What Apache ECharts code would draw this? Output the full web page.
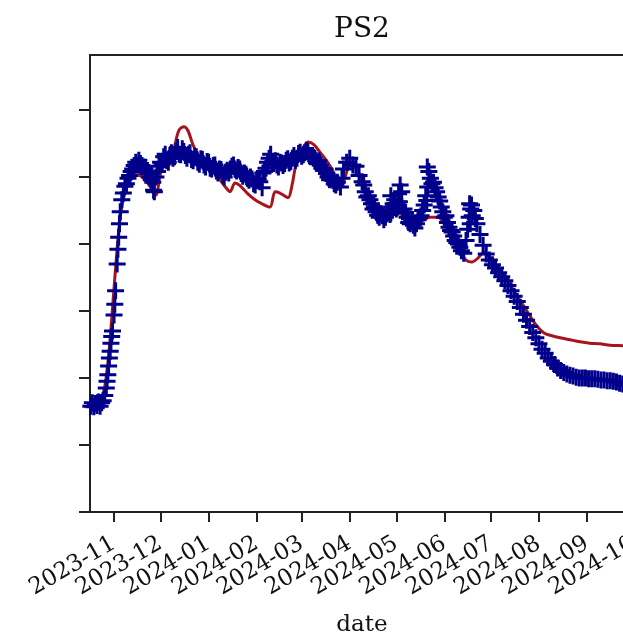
<!DOCTYPE html>
<html>
<head>
<meta charset="utf-8">
<script src="https://cdn.jsdelivr.net/npm/echarts@6/dist/echarts.min.js"></script>
<style>
  html, body { margin: 0; padding: 0; background: #fff; }
  #chart { width: 623px; height: 643px; }
</style>
</head>
<body>
<div id="chart"></div>
<script>
var START = '2023-11-01';
var DAY = 86400000;

/* month ticks on the date axis */
var monthTicks = ['2023-11-01', '2023-12-01', '2024-01-01', '2024-02-01', '2024-03-01', '2024-04-01',
  '2024-05-01', '2024-06-01', '2024-07-01', '2024-08-01', '2024-09-01', '2024-10-01'];
var yTicks = [0, 1, 2, 3, 4, 5, 6];

/* measured points (+ markers), days after START */
var measDays = [-15, -14, -13, -12, -11, -10, -9, -8, -7, -6, -5, -4.5, -4, -3.5, -3, -2.5, -2, -1.5, -1, 0, 0.5, 1, 2, 2.5, 3, 3.5, 4,
  5, 6, 7, 8, 9, 10, 11, 12, 13, 14, 15, 16, 17, 18, 19, 20, 21, 22, 23, 24, 25, 25.5, 26, 27, 28, 29, 30,
  32, 34, 36, 38, 40, 42, 44, 46, 48, 50, 52, 54, 56, 58, 60, 62, 64, 66, 68, 70, 72, 74, 76, 78, 80, 82, 84, 86, 88, 90,
  92, 94, 95.5, 96, 98, 100, 101, 102, 104, 106, 108, 110, 112, 114, 116, 118, 120, 122, 124, 126, 128, 130, 132, 134, 136, 138,
  140, 142, 144, 146, 147, 148, 150, 152, 154, 156, 158, 160, 162, 164, 166, 168, 170, 172, 174, 176, 178, 178.5, 180, 182,
  183.5, 184, 184.5, 185.5, 186, 188, 190, 192, 194, 196, 198, 200, 201, 201.7, 202, 202.3, 203, 204, 206, 208, 210, 212, 214,
  216, 218, 220, 222, 224, 225.5, 227, 228, 229, 229.3, 229.7, 230, 230.5, 231, 232, 233, 234, 236, 238, 240, 242, 244, 246,
  248, 250, 252, 254, 256, 258, 260, 262, 264, 266, 268, 270, 272, 274, 276, 278, 280, 282, 284, 286, 288, 290, 292, 294,
  296, 298, 300, 302, 304, 306, 308, 310, 312, 314, 316, 318, 320, 322, 324, 326, 328, 330, 332, 334];
var measVals = [1.58, 1.63, 1.57, 1.62, 1.59, 1.64, 1.58, 1.63, 1.66, 1.74, 1.85, 1.95, 2.05, 2.18, 2.30, 2.40, 2.52, 2.62, 2.70, 2.94, 3.10, 3.30, 3.70, 3.92, 4.10, 4.30, 4.48,
  4.66, 4.76, 4.86, 4.90, 4.98, 5.02, 5.08, 5.12, 5.17, 5.22, 5.18, 5.25, 5.20, 5.17, 5.15, 5.12, 5.07, 5.05, 5.00, 4.96, 4.92, 4.80, 4.78, 5.00, 5.08, 5.16, 5.22,
  5.30, 5.24, 5.32, 5.28, 5.38, 5.34, 5.42, 5.32, 5.34, 5.26, 5.31, 5.22, 5.27, 5.18, 5.23, 5.13, 5.17, 5.09, 5.12, 5.03, 5.07, 5.06, 5.16, 5.12, 5.14, 5.05, 5.06, 4.98, 5.00, 4.90,
  4.95, 4.93, 4.84, 5.06, 5.13, 5.28, 5.34, 5.22, 5.24, 5.15, 5.21, 5.20, 5.27, 5.23, 5.32, 5.28, 5.37, 5.33, 5.40, 5.32, 5.32, 5.24, 5.24, 5.13, 5.12, 5.00,
  5.00, 4.90, 4.92, 4.85, 4.98, 5.12, 5.22, 5.28, 5.18, 5.16, 5.02, 4.93, 4.78, 4.72, 4.60, 4.55, 4.43, 4.45, 4.36, 4.45, 4.44, 4.72, 4.60, 4.52,
  4.75, 4.63, 4.88, 4.78, 4.48, 4.47, 4.32, 4.34, 4.24, 4.36, 4.42, 4.58, 4.72, 4.65, 5.15, 4.85, 5.08, 4.98, 4.92, 4.78, 4.64, 4.48, 4.42,
  4.25, 4.18, 4.05, 4.00, 3.90, 3.86, 4.05, 4.22, 4.40, 4.60, 4.30, 4.52, 4.58, 4.42, 4.50, 4.38, 4.30, 4.14, 3.98, 3.85, 3.76, 3.69, 3.64,
  3.57, 3.51, 3.45, 3.38, 3.30, 3.22, 3.14, 3.05, 2.95, 2.86, 2.77, 2.68, 2.60, 2.51, 2.43, 2.37, 2.30, 2.25, 2.20, 2.15, 2.11, 2.08, 2.06, 2.04,
  2.03, 2.01, 2.00, 2.00, 2.00, 1.99, 1.99, 1.99, 1.98, 1.97, 1.97, 1.96, 1.96, 1.95, 1.94, 1.92, 1.91, 1.90, 1.89, 1.88];

/* more measured points on odd days (the noisy middle stretch) */
var extraDays = [31, 33, 35, 37, 39, 41, 43, 45, 47, 49, 51, 53, 55, 57, 59, 61, 63, 65, 67, 69, 71, 73, 75, 77, 79, 81, 83, 85, 87, 89,
  91, 93, 97, 99, 103, 105, 107, 109, 111, 113, 115, 117, 119, 121, 123, 125, 127, 129, 131, 133, 135, 137, 139, 141, 143,
  161, 163, 165, 167, 169, 171, 173, 175, 177, 179, 181, 183, 187, 189, 191, 193, 195, 197, 199, 205, 207, 209, 211, 213, 215,
  217, 219, 221, 223];
var extraVals = [5.20, 5.34, 5.22, 5.36, 5.30, 5.44, 5.33, 5.38, 5.28, 5.36, 5.24, 5.30, 5.19, 5.26, 5.15, 5.22, 5.12, 5.18, 5.06, 5.11,
  5.00, 5.10, 5.12, 5.18, 5.09, 5.12, 5.01, 5.04, 4.95, 4.97, 4.88, 4.97, 5.08, 5.22, 5.20, 5.18, 5.22, 5.17, 5.25, 5.21,
  5.28, 5.25, 5.35, 5.31, 5.36, 5.38, 5.30, 5.28, 5.20, 5.18, 5.10, 5.05, 4.96, 4.95, 4.88,
  4.88, 4.70, 4.66, 4.52, 4.48, 4.40, 4.42, 4.40, 4.50, 4.55, 4.66, 4.58, 4.52, 4.40, 4.30, 4.28, 4.30, 4.40, 4.50, 4.90, 4.84,
  4.70, 4.55, 4.40, 4.32, 4.20, 4.12, 4.02, 3.95];

/* model curve (red line), days after START */
var modelDays = [-15.5, -11.6, -9, -6.4, -4.5, -2.6, -0.6, 1.3, 3.2, 5.2, 7.7, 11, 14.8, 18.7, 23.2, 27, 29.5, 31, 33.5, 36.8,
  39.3, 41.9, 45.1, 47.7, 50.9, 54.2, 58.7, 63.2, 68.3, 72.2, 74.8, 78, 81.2, 85.8, 90.9, 95.4, 100.6, 103.8, 107, 112.2,
  114.8, 117.3, 121.2, 125.1, 129, 132.8, 138, 142.5, 146.4, 148.9, 152.2, 156, 159.9, 163.8, 168.3, 172.8, 178, 184.4, 190.9, 196,
  199.9, 203.7, 208.9, 213.4, 217.9, 223.1, 227, 230.8, 234.7, 238.6, 242.5, 247, 252.2, 256.6, 261.8, 267, 272.1, 277.3, 282.4, 287.6,
  294, 300.5, 306.9, 313.3, 319.8, 328.2, 335];
var modelVals = [1.60, 1.61, 1.67, 1.82, 2.12, 2.57, 3.16, 3.73, 4.24, 4.58, 4.81, 4.96, 5.03, 4.99, 4.86, 4.73, 5.00, 5.13, 5.16, 5.21,
  5.48, 5.70, 5.75, 5.69, 5.48, 5.33, 5.22, 5.10, 4.96, 4.84, 4.78, 4.91, 4.87, 4.76, 4.66, 4.60, 4.55, 4.78, 4.76, 4.69,
  4.88, 5.18, 5.40, 5.52, 5.48, 5.37, 5.21, 5.03, 4.84, 4.99, 5.18, 5.13, 4.96, 4.76, 4.61, 4.54, 4.48, 4.45, 4.39, 4.33,
  4.36, 4.40, 4.40, 4.28, 4.09, 3.88, 3.76, 3.73, 3.79, 3.88, 3.79, 3.67, 3.49, 3.34, 3.16, 2.97, 2.79, 2.67, 2.63, 2.60,
  2.57, 2.54, 2.52, 2.51, 2.49, 2.48, 2.47];

var t0 = Date.parse(START);
function toPairs(days, vals) {
  return days.map(function (d, i) { return [t0 + d * DAY, vals[i]]; });
}
var tickTimes = monthTicks.map(function (s) { return Date.parse(s); });
var measured = toPairs(measDays, measVals).concat(toPairs(extraDays, extraVals));

var chart = echarts.init(document.getElementById('chart'));
var serif = 'DejaVu Serif';
var plusPath = 'path://M7,0h3v17h-3zM0,7h17v3h-17z';

var option = {
  animation: false,
  backgroundColor: '#fff',
  grid: {
    left: 90, top: 55, right: -11, bottom: 131,
    containLabel: false,
    outerBoundsMode: 'none',
    show: true, borderColor: '#222', borderWidth: 2, backgroundColor: 'transparent'
  },
  graphic: [{
    type: 'text', x: 362, y: 30,
    style: { text: 'PS2', font: '28px "DejaVu Serif"', fill: '#111', align: 'center', verticalAlign: 'middle' }
  }],
  xAxis: {
    type: 'value',
    min: t0 - 15.5 * DAY,
    max: t0 + 335.3 * DAY,
    name: 'date',
    nameLocation: 'middle',
    nameGap: 102,
    nameTextStyle: { fontFamily: serif, fontSize: 23, color: '#111' },
    axisLine: { lineStyle: { color: '#222', width: 2 } },
    axisTick: { customValues: tickTimes, length: 10, lineStyle: { color: '#222', width: 2 } },
    axisLabel: {
      customValues: tickTimes,
      rotate: 30,
      margin: 30,
      fontFamily: serif,
      fontSize: 23,
      color: '#111',
      hideOverlap: false,
      formatter: function (v) {
        var d = new Date(v);
        var m = d.getUTCMonth() + 1;
        return d.getUTCFullYear() + '-' + (m < 10 ? '0' + m : m);
      }
    },
    splitLine: { show: false }
  },
  yAxis: {
    type: 'value',
    min: 0,
    max: 6.82,
    axisLine: { show: true, lineStyle: { color: '#222', width: 2 } },
    axisTick: { show: true, customValues: yTicks, length: 11, lineStyle: { color: '#222', width: 2 } },
    axisLabel: { show: false },
    splitLine: { show: false }
  },
  series: [
    {
      name: 'model',
      type: 'line',
      data: toPairs(modelDays, modelVals),
      showSymbol: false,
      smooth: 0.3,
      lineStyle: { color: '#a8141c', width: 3 },
      z: 2
    },
    {
      name: 'measured',
      type: 'scatter',
      data: measured,
      symbol: plusPath,
      symbolSize: 17,
      itemStyle: { color: '#00008b', opacity: 1 },
      z: 3
    }
  ]
};
chart.setOption(option);
</script>
</body>
</html>
